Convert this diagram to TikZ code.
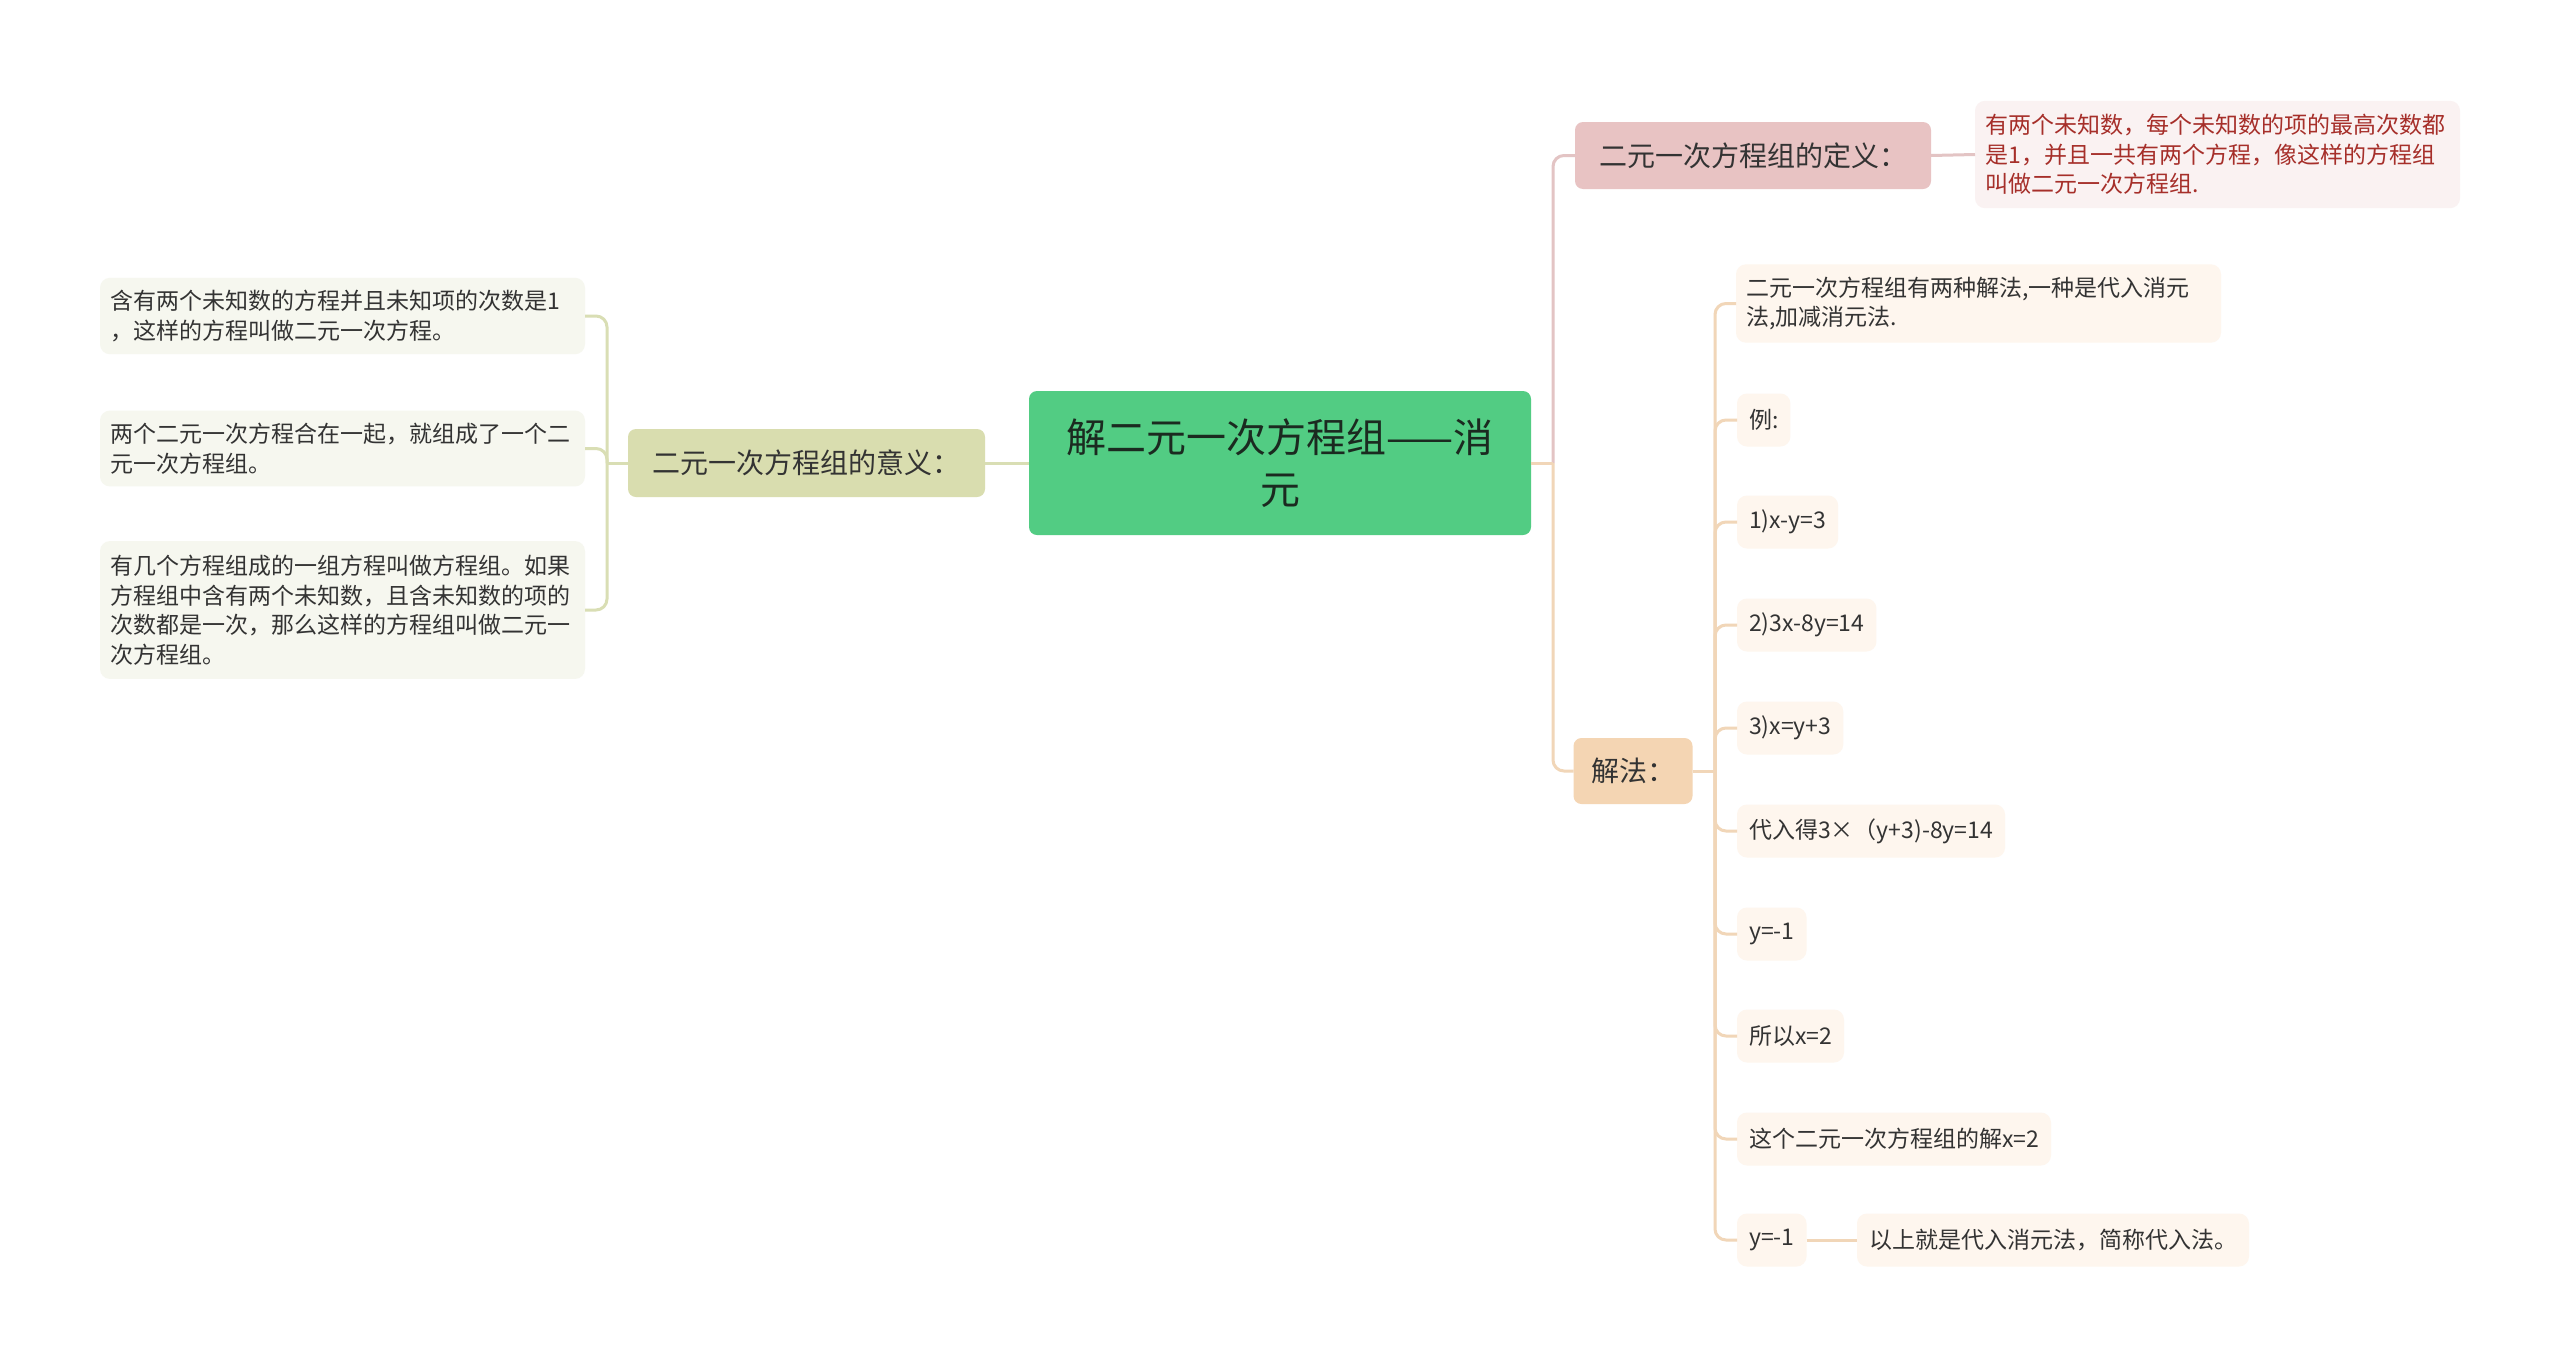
\documentclass[tikz,border=0pt]{standalone}
\usepackage{fontspec}
\setmainfont{Noto Sans CJK SC}
\definecolor{rootfill}{HTML}{52CC83}
\definecolor{roottext}{HTML}{1B2A20}
\definecolor{pinkfill}{HTML}{E8C3C3}
\definecolor{pinkline}{HTML}{E3C4C4}
\definecolor{pinkleaf}{HTML}{FAF2F2}
\definecolor{redtext}{HTML}{A62F2A}
\definecolor{orfill}{HTML}{F4D5B3}
\definecolor{orline}{HTML}{F1D6B8}
\definecolor{orleaf}{HTML}{FEF6EE}
\definecolor{olfill}{HTML}{D9DDAF}
\definecolor{olline}{HTML}{D9DEB4}
\definecolor{olleaf}{HTML}{F6F7EF}
\definecolor{txt}{HTML}{333333}
\begin{document}
\begin{tikzpicture}[x=1pt,y=-1pt,
  every node/.style={inner sep=0pt,outer sep=0pt},
  mainbox/.style={rounded corners=8pt,minimum height=67pt,align=center,
    font=\fontsize{28}{34}\selectfont,text=txt},
  leafbase/.style={rounded corners=10pt,align=left,font=\fontsize{23}{29.5}\selectfont,text=txt},
  wideleaf/.style={leafbase,text width=464pt,inner xsep=10.5pt,inner ysep=12.5pt},
  smallleaf/.style={leafbase,minimum height=53pt,inner xsep=12pt,anchor=west},
  conn/.style={line width=3pt},
  elbow/.style={line width=3pt,rounded corners=11pt}]
\useasboundingbox (0,0) rectangle (2560,1366);
\fill[white] (0,0) rectangle (2560,1366);

% root
\node[fill=rootfill,rounded corners=8pt,minimum width=502pt,minimum height=144pt,
  align=center,text=roottext,font=\fontsize{40}{52}\selectfont] (root) at (1280,463)
  {解二元一次方程组——消\\元};

% right main branches
\node[mainbox,fill=pinkfill,minimum width=356pt] (def) at (1753,155.5) {二元一次方程组的定义：};
\node[wideleaf,fill=pinkleaf,text=redtext,inner ysep=13.5pt] (defl) at (2217.5,154.5)
  {有两个未知数，每个未知数的项的最高次数都\\是1，并且一共有两个方程，像这样的方程组\\叫做二元一次方程组.};
\node[mainbox,fill=orfill,minimum width=119pt,minimum height=66pt] (fa) at (1633,771) {解法：};

% children of fa
\node[wideleaf,fill=orleaf] (c1) at (1978.5,303.5)
  {二元一次方程组有两种解法,一种是代入消元\\法,加减消元法.};
\node[smallleaf,fill=orleaf] (c2) at (1737,420) {例:};
\node[smallleaf,fill=orleaf] (c3) at (1737,522) {1)x-y=3};
\node[smallleaf,fill=orleaf] (c4) at (1737,625) {2)3x-8y=14};
\node[smallleaf,fill=orleaf] (c5) at (1737,728) {3)x=y+3};
\node[smallleaf,fill=orleaf] (c6) at (1737,831) {代入得3×（y+3)-8y=14};
\node[smallleaf,fill=orleaf] (c7) at (1737,934) {y=-1};
\node[smallleaf,fill=orleaf] (c8) at (1737,1036) {所以x=2};
\node[smallleaf,fill=orleaf] (c9) at (1737,1139) {这个二元一次方程组的解x=2};
\node[smallleaf,fill=orleaf] (c10) at (1737,1240) {y=-1};
\node[smallleaf,fill=orleaf] (c11) at (1857,1240) {以上就是代入消元法，简称代入法。};

% left branch
\node[mainbox,fill=olfill,minimum width=357pt,minimum height=68pt] (yy) at (806.5,463) {二元一次方程组的意义：};
\node[wideleaf,fill=olleaf] (l1) at (342.5,316)
  {含有两个未知数的方程并且未知项的次数是1\\，这样的方程叫做二元一次方程。};
\node[wideleaf,fill=olleaf] (l2) at (342.5,448.5)
  {两个二元一次方程合在一起，就组成了一个二\\元一次方程组。};
\node[wideleaf,fill=olleaf,inner ysep=14pt] (l3) at (342.5,610)
  {有几个方程组成的一组方程叫做方程组。如果\\方程组中含有两个未知数，且含未知数的项的\\次数都是一次，那么这样的方程组叫做二元一\\次方程组。};

% junction coordinates
\coordinate (jr) at (1553,463);
\coordinate (jf) at (1715,771);
\coordinate (jl) at (607,463);

% connectors right
\draw[elbow,pinkline] (jr) |- (def.west);
\draw[conn,pinkline] (def.east) -- (defl.west);
\draw[elbow,orline] (jr) |- (fa.west);
\draw[conn,orline] (root.east) -- (jr);
\draw[conn,orline] (fa.east) -- (jf);
\foreach \c in {c1,c2,c3,c4,c5,c6,c7,c8,c9,c10}
  \draw[elbow,orline] (jf) |- (\c.west);
\draw[conn,orline] (c10.east) -- (c11.west);

% connectors left
\draw[conn,olline] (root.west) -- (yy.east);
\draw[conn,olline] (yy.west) -- (jl);
\foreach \c in {l1,l2,l3}
  \draw[elbow,olline] (jl) |- (\c.east);
\end{tikzpicture}
\end{document}
